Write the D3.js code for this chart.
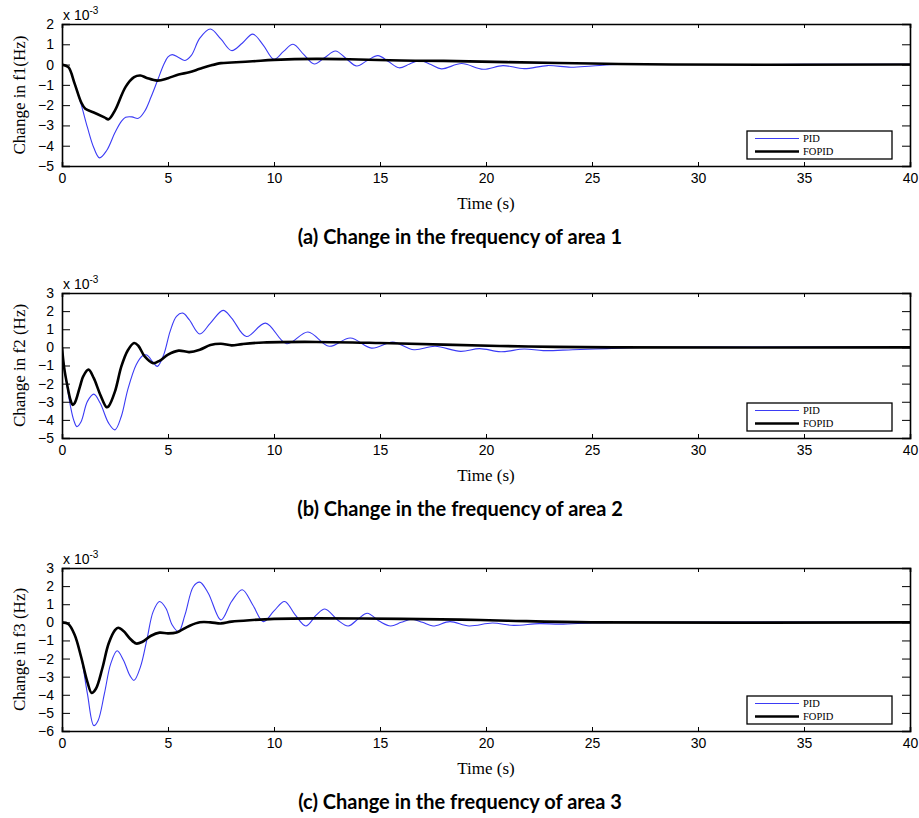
<!DOCTYPE html>
<html><head><meta charset="utf-8">
<script src="https://cdn.jsdelivr.net/npm/d3@7"></script>
<style>body{margin:0;background:#fff}</style>
</head><body>
<svg id="c" width="919" height="818"></svg>
<script>
// values in units of 1e-3 Hz, [time (s), value]
const pidArea1 = [[0,0],[0.3,-0.13],[0.6,-0.95],[0.9,-1.95],[1.2,-3.1],[1.5,-4.1],[1.77,-4.6],[2.1,-4.25],[2.5,-3.35],[2.8,-2.8],[3.0,-2.6],[3.3,-2.58],[3.6,-2.65],[3.9,-2.3],[4.2,-1.6],[4.5,-0.8],[4.8,0.0],[5.0,0.38],[5.2,0.49],[5.5,0.35],[5.8,0.2],[6.1,0.45],[6.5,1.3],[7.0,1.75],[7.5,1.25],[8.0,0.69],[8.5,1.05],[9.0,1.5],[9.5,0.95],[10.0,0.26],[10.45,0.65],[10.9,1.0],[11.4,0.5],[11.9,0.03],[12.4,0.35],[12.9,0.67],[13.4,0.3],[13.9,-0.07],[14.4,0.2],[14.9,0.44],[15.4,0.15],[15.9,-0.16],[16.4,0.03],[16.9,0.2],[17.4,0.0],[17.9,-0.21],[18.85,0.05],[19.87,-0.23],[20.8,-0.05],[21.8,-0.2],[22.9,-0.05],[24.0,-0.13],[25.0,-0.07],[26.2,0],[30,0],[35,0.01],[40,0.01]];
const fopidArea1 = [[0,0],[0.3,-0.13],[0.6,-0.95],[0.9,-1.85],[1.1,-2.18],[1.5,-2.36],[2.0,-2.6],[2.2,-2.7],[2.5,-2.26],[3.0,-1.1],[3.4,-0.62],[3.7,-0.54],[4.0,-0.66],[4.5,-0.79],[5.0,-0.67],[5.5,-0.49],[6.0,-0.38],[6.5,-0.21],[7.0,-0.05],[7.5,0.07],[8.0,0.1],[9.0,0.16],[10.0,0.23],[12.0,0.28],[14.0,0.25],[16.0,0.2],[18.0,0.18],[21.0,0.12],[25.0,0.05],[28.8,0],[40,0]];
const pidArea2 = [[0,0],[0.1,-1.1],[0.25,-2.2],[0.4,-3.25],[0.55,-4.0],[0.7,-4.37],[0.9,-4.1],[1.2,-2.98],[1.5,-2.58],[1.8,-3.07],[2.2,-4.18],[2.5,-4.55],[2.8,-3.8],[3.1,-2.34],[3.5,-0.96],[3.8,-0.46],[4.0,-0.42],[4.3,-0.83],[4.5,-1.05],[4.8,-0.4],[5.1,0.88],[5.4,1.71],[5.7,1.89],[6.0,1.53],[6.5,0.74],[7.0,1.34],[7.6,2.04],[8.0,1.62],[8.7,0.6],[9.6,1.34],[10.6,0.2],[11.6,0.85],[12.6,0.06],[13.6,0.52],[14.6,-0.04],[15.6,0.29],[16.6,-0.13],[17.6,0.06],[18.8,-0.22],[19.7,-0.07],[20.7,-0.24],[21.8,-0.09],[22.7,-0.18],[24.1,-0.13],[25.7,-0.07],[27.3,0],[33,0.02],[40,0.02]];
const fopidArea2 = [[0,0],[0.1,-1.1],[0.25,-2.1],[0.4,-2.9],[0.5,-3.17],[0.6,-3.07],[0.85,-2.15],[1.0,-1.6],[1.25,-1.23],[1.5,-1.7],[1.8,-2.6],[2.1,-3.3],[2.2,-3.25],[2.5,-2.43],[2.8,-1.05],[3.1,-0.17],[3.4,0.24],[3.6,0.09],[3.9,-0.5],[4.3,-0.87],[4.6,-0.74],[5.0,-0.4],[5.5,-0.18],[6.0,-0.26],[6.5,-0.13],[7.0,0.13],[7.5,0.2],[8.0,0.11],[8.5,0.18],[9.5,0.27],[12.0,0.3],[15.0,0.24],[18.0,0.15],[22.0,0.05],[26,0],[40,0]];
const pidArea3 = [[0,0],[0.3,-0.09],[0.6,-0.7],[0.9,-1.9],[1.2,-3.95],[1.5,-5.7],[1.7,-5.43],[2.0,-3.94],[2.3,-2.28],[2.6,-1.57],[2.9,-2.09],[3.2,-2.93],[3.4,-3.2],[3.7,-2.46],[4.0,-0.98],[4.3,0.59],[4.6,1.15],[4.9,0.78],[5.2,-0.15],[5.5,-0.52],[5.8,0.41],[6.2,1.98],[6.5,2.22],[6.9,1.61],[7.5,0.13],[8.0,1.15],[8.5,1.8],[9.0,0.96],[9.5,0.04],[10.0,0.63],[10.5,1.15],[11.0,0.41],[11.5,-0.2],[12.0,0.41],[12.4,0.74],[13.0,0.13],[13.5,-0.2],[14.0,0.22],[14.4,0.5],[15.0,0.04],[15.5,-0.2],[16.0,0.0],[16.5,0.17],[17.0,0.0],[17.5,-0.2],[18.3,0.04],[19.2,-0.2],[20.3,-0.04],[21.3,-0.17],[22.5,-0.07],[23.5,-0.1],[24.9,-0.03],[26,0],[40,0]];
const fopidArea3 = [[0,0],[0.3,-0.09],[0.6,-0.7],[0.9,-1.9],[1.2,-3.3],[1.4,-3.9],[1.6,-3.67],[1.9,-2.55],[2.2,-1.17],[2.5,-0.43],[2.65,-0.3],[2.9,-0.48],[3.2,-0.89],[3.5,-1.17],[3.8,-1.07],[4.2,-0.74],[4.6,-0.57],[5.0,-0.61],[5.4,-0.56],[6.0,-0.2],[6.5,0],[7.0,0],[7.5,-0.06],[8.0,0.04],[9.0,0.13],[10.0,0.19],[12.0,0.22],[16.0,0.19],[18.8,0.15],[21.0,0.09],[25.0,0],[40,0]];

const xTicks = [0,5,10,15,20,25,30,35,40];
const yTicks1 = [-5,-4,-3,-2,-1,0,1,2];
const yTicks2 = [-5,-4,-3,-2,-1,0,1,2,3];
const yTicks3 = [-6,-5,-4,-3,-2,-1,0,1,2,3];
const yLabels = ["Change in f1(Hz)","Change in f2 (Hz)","Change in f3 (Hz)"];
const titles = ["(a) Change in the frequency of area 1","(b) Change in the frequency of area 2","(c) Change in the frequency of area 3"];
const seriesNames = ["PID","FOPID"];

const svg = d3.select("#c");
const X0 = 62, X1 = 910;
const layout = [
  {top:24, bottom:166, ticks:yTicks1, pid:pidArea1, fopid:fopidArea1},
  {top:293, bottom:438, ticks:yTicks2, pid:pidArea2, fopid:fopidArea2},
  {top:568, bottom:731, ticks:yTicks3, pid:pidArea3, fopid:fopidArea3}
];
const blue = "#3b3bf5";

layout.forEach((p, i) => {
  const x = d3.scaleLinear().domain([0,40]).range([X0,X1]);
  const yd = d3.extent(p.ticks);
  const y = d3.scaleLinear().domain(yd).range([p.bottom,p.top]);
  const g = svg.append("g");
  const clipId = "clip"+i;
  svg.append("clipPath").attr("id",clipId).append("rect")
    .attr("x",X0).attr("y",p.top).attr("width",X1-X0).attr("height",p.bottom-p.top);

  const line = d3.line().x(d=>x(d[0])).y(d=>y(d[1])).curve(d3.curveCatmullRom.alpha(0.5));
  const lg = g.append("g").attr("clip-path",`url(#${clipId})`);
  lg.append("path").datum(p.pid).attr("d",line).attr("fill","none").attr("stroke",blue).attr("stroke-width",1.1);
  lg.append("path").datum(p.fopid).attr("d",line).attr("fill","none").attr("stroke","#000").attr("stroke-width",2.6);

  const fontAx = "Liberation Sans, Arial, sans-serif";
  const xb = g.append("g").attr("transform",`translate(0,${p.bottom})`)
    .call(d3.axisBottom(x).tickValues(xTicks).tickSize(-4).tickPadding(7).tickFormat(d3.format("d")));
  const xt = g.append("g").attr("transform",`translate(0,${p.top})`)
    .call(d3.axisTop(x).tickValues(xTicks).tickSize(-4).tickFormat(""));
  const yl = g.append("g").attr("transform",`translate(${X0},0)`)
    .call(d3.axisLeft(y).tickValues(p.ticks).tickSize(-8).tickPadding(8).tickFormat(d3.format("d")));
  const yr = g.append("g").attr("transform",`translate(${X1},0)`)
    .call(d3.axisRight(y).tickValues(p.ticks).tickSize(-8).tickFormat(""));
  [xb,xt,yl,yr].forEach(a=>{
    a.select(".domain").attr("stroke","#000").attr("stroke-width",1.6);
    a.selectAll(".tick line").attr("stroke","#000").attr("stroke-width",1);
    a.selectAll("text").attr("font-family",fontAx).attr("font-size",14).attr("fill","#000");
  });
  xb.selectAll("text").attr("dy","0.71em");

  const ex = g.append("text").attr("x",X0+1).attr("y",p.top-4)
    .attr("font-family",fontAx).attr("font-size",14).attr("fill","#000");
  ex.append("tspan").text("x 10");
  ex.append("tspan").attr("dy",-6).attr("font-size",10).text("-3");

  g.append("text").attr("x",(X0+X1)/2).attr("y",p.bottom+43)
    .attr("text-anchor","middle").attr("font-family","Liberation Serif, Times New Roman, serif")
    .attr("font-size",17).text("Time (s)");
  g.append("text").attr("transform",`translate(25,${(p.top+p.bottom)/2}) rotate(-90)`)
    .attr("text-anchor","middle").attr("font-family","Liberation Serif, Times New Roman, serif")
    .attr("font-size",17).text(yLabels[i]);
  g.append("text").attr("x",460).attr("y",p.bottom+78)
    .attr("text-anchor","middle").attr("font-family","Lato, Open Sans, sans-serif")
    .attr("font-weight","bold").attr("font-size",20).text(titles[i]);

  const lgx = 747, lgw = 145, lgh = 28, lgy = p.bottom - 7 - lgh;
  const L = g.append("g");
  L.append("rect").attr("x",lgx).attr("y",lgy).attr("width",lgw).attr("height",lgh)
    .attr("fill","#fff").attr("stroke","#000").attr("stroke-width",1.3);
  [[blue,1.1],["#000",2.6]].forEach((s,k)=>{
    const yy = lgy + 7.5 + k*13;
    L.append("line").attr("x1",755).attr("x2",799).attr("y1",yy).attr("y2",yy)
      .attr("stroke",s[0]).attr("stroke-width",s[1]);
    L.append("text").attr("x",803).attr("y",yy).attr("dy","0.35em")
      .attr("font-family","Liberation Serif, Times New Roman, serif").attr("font-size",10.5)
      .text(seriesNames[k]);
  });
});
</script>
</body></html>
